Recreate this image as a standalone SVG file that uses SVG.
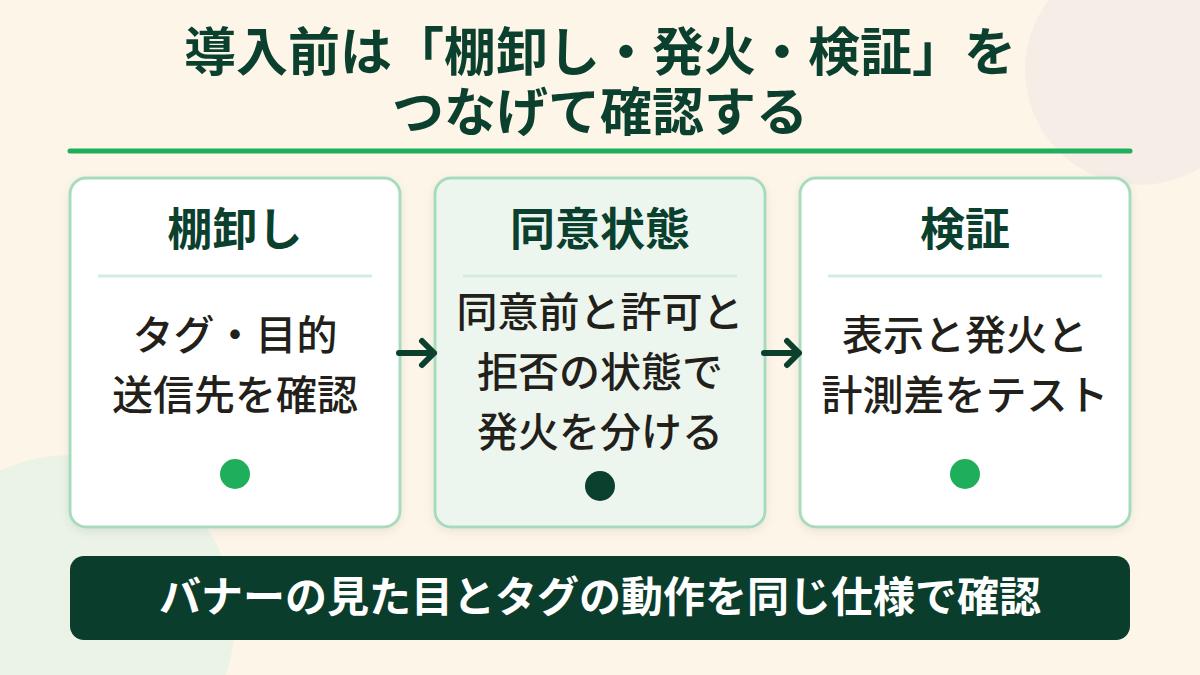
<svg xmlns="http://www.w3.org/2000/svg" width="1200" height="675" viewBox="0 0 1200 675">
<defs>
<style>
.card{fill:#fff;stroke:#a8dbbd;stroke-width:3}
.t{font-family:"Noto Sans CJK JP",sans-serif;font-weight:700;fill:#0b3f2e;text-anchor:middle}
.b{font-family:"Noto Sans CJK JP",sans-serif;font-weight:500;fill:#231f1a;font-size:41px;text-anchor:middle}
.div{stroke:#d3ece0;stroke-width:3}
.arr{stroke:#0b3f2e;stroke-width:6;fill:none;stroke-linecap:round;stroke-linejoin:round}
</style>
<filter id="sh" x="-10%" y="-10%" width="120%" height="120%"><feDropShadow dx="0" dy="3" stdDeviation="4" flood-color="#000" flood-opacity="0.08"/></filter>
</defs>
<rect width="1200" height="675" fill="#fdf6e8"/>
<circle cx="1140" cy="70" r="115" fill="#f6eee6"/>
<circle cx="70" cy="620" r="165" fill="#ebf3e7"/>
<g id="title">
<text class="t" x="600" y="71" font-size="52">導入前は「棚卸し・発火・検証」を</text>
<text class="t" x="600" y="131" font-size="52">つなげて確認する</text>
<line x1="70" y1="151" x2="1130" y2="151" stroke="#1faf5c" stroke-width="5" stroke-linecap="round"/>
</g>
<g id="card1">
<rect class="card" x="70" y="178" width="330" height="349" rx="16" filter="url(#sh)"/>
<text class="t" x="235" y="246" font-size="45">棚卸し</text>
<line class="div" x1="98" y1="276" x2="372" y2="276"/>
<text class="b" x="235" y="350">タグ・目的</text>
<text class="b" x="235" y="410">送信先を確認</text>
<circle cx="235" cy="474" r="15" fill="#1faf5c"/>
</g>
<g id="card2">
<rect class="card" x="435" y="178" width="330" height="349" rx="16" style="fill:#ecf6ee" filter="url(#sh)"/>
<text class="t" x="600" y="246" font-size="45">同意状態</text>
<line class="div" x1="463" y1="276" x2="737" y2="276"/>
<text class="b" x="600" y="327">同意前と許可と</text>
<text class="b" x="600" y="387">拒否の状態で</text>
<text class="b" x="600" y="447">発火を分ける</text>
<circle cx="600" cy="486" r="15" fill="#0b3f2e"/>
</g>
<g id="card3">
<rect class="card" x="800" y="178" width="330" height="349" rx="16" filter="url(#sh)"/>
<text class="t" x="965" y="246" font-size="45">検証</text>
<line class="div" x1="828" y1="276" x2="1102" y2="276"/>
<text class="b" x="965" y="350">表示と発火と</text>
<text class="b" x="965" y="410">計測差をテスト</text>
<circle cx="965" cy="474" r="15" fill="#1faf5c"/>
</g>
<g id="connectors">
<path class="arr" d="M399 353H434M422 341L434 353L422 365"/>
<path class="arr" d="M764 353H799M787 341L799 353L787 365"/>
</g>
<g id="banner">
<rect x="70" y="556" width="1060" height="84" rx="14" fill="#0b3d2c"/>
<text class="t" x="600" y="612" font-size="42" style="fill:#fff">バナーの見た目とタグの動作を同じ仕様で確認</text>
</g>
</svg>
